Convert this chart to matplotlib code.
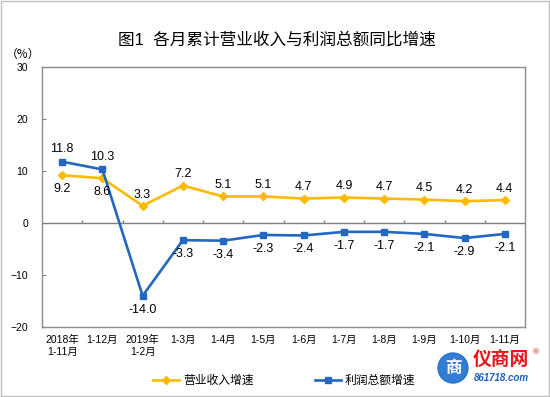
import numpy as np
import matplotlib
matplotlib.use('Agg')
import matplotlib.pyplot as plt
from matplotlib.patches import Rectangle, Ellipse

plt.rcParams['font.family'] = ['Liberation Sans', 'Noto Sans CJK SC', 'DejaVu Sans']

categories = ['2018年\n1-11月', '1-12月', '2019年\n1-2月', '1-3月', '1-4月', '1-5月',
              '1-6月', '1-7月', '1-8月', '1-9月', '1-10月', '1-11月']
revenue = [9.2, 8.6, 3.3, 7.2, 5.1, 5.1, 4.7, 4.9, 4.7, 4.5, 4.2, 4.4]
profit = [11.8, 10.3, -14.0, -3.3, -3.4, -2.3, -2.4, -1.7, -1.7, -2.1, -2.9, -2.1]
# label above (True) or below (False) the point
rev_above = [False, False, True, True, True, True, True, True, True, True, True, True]
prof_above = [True, True] + [False] * 10

orange = '#FFBA00'
blue = '#2467C0'

fig = plt.figure(figsize=(5.5, 3.97), dpi=100)
ax = fig.add_axes([42 / 550, 1 - 327 / 397, 483 / 550, 260 / 397])

x = np.arange(len(categories))
ax.plot(x, revenue, color=orange, lw=1.9, marker='D', ms=4.5, label='营业收入增速', zorder=3)
ax.plot(x, profit, color=blue, lw=1.9, marker='s', ms=4, label='利润总额增速', zorder=3)

for xi, v, up in zip(x, revenue, rev_above):
    ax.annotate(f'{v:.1f}', (xi, v), xytext=(0, 8 if up else -10), textcoords='offset points',
                ha='center', va='center', fontsize=9)
for xi, v, up in zip(x, profit, prof_above):
    ax.annotate(f'{v:.1f}', (xi, v), xytext=(0, 9 if up else -10), textcoords='offset points',
                ha='center', va='center', fontsize=9)

ax.set_xlim(-0.5, len(categories) - 0.5)
ax.set_ylim(-20, 30)
ax.set_yticks([-20, -10, 0, 10, 20, 30])
ax.set_xticks(x)
ax.set_xticklabels(categories, fontsize=7.5, linespacing=1.15)
ax.tick_params(axis='x', length=0, pad=6)
ax.tick_params(axis='y', direction='in', length=3, labelsize=7.5, pad=10, color='#808080')

# zero line with small category separators
ax.axhline(0, color='#7F7F7F', lw=1, zorder=2)
ax.vlines(np.arange(0.5, len(categories) - 1), 0, 0.6, color='#7F7F7F', lw=1, zorder=2)

for s in ax.spines.values():
    s.set_color('#8C8C8C')
    s.set_linewidth(1)

fig.text(0.503, 1 - 40 / 397, '图1  各月累计营业收入与利润总额同比增速', ha='center', va='center', fontsize=12)
fig.text(23 / 550, 1 - 54 / 397, '（%）', ha='center', va='center', fontsize=8.5,
         family=['Noto Sans CJK SC'])

fig.legend(loc='center', bbox_to_anchor=(284 / 550, 1 - 381 / 397), ncol=2, frameon=False,
           fontsize=8.5, handlelength=2.2, handletextpad=0.35, columnspacing=5.2)

# watermark
fig.patches.append(Ellipse((453 / 550, 1 - 368 / 397), 30 / 550, 30 / 397, transform=fig.transFigure,
                           color='#1E6FD0', alpha=0.9, zorder=5))
fig.text(453 / 550, 1 - 368 / 397, '商', ha='center', va='center', fontsize=12, color='white',
         fontweight='bold', zorder=6)
fig.text(501 / 550, 1 - 360 / 397, '仪商网', ha='center', va='center', fontsize=13.5, color='#E8161B',
         fontweight='bold', zorder=6)
fig.text(501 / 550, 1 - 378 / 397, '861718.com', ha='center', va='center', fontsize=7, color='#1E5FB8',
         fontweight='bold', style='italic', zorder=6)
fig.text(536 / 550, 1 - 353 / 397, '®', ha='center', va='center', fontsize=6, color='#E8161B', zorder=6)

fig.patches.append(Rectangle((0.001, 0.002), 0.997, 0.996, transform=fig.transFigure, fill=False,
                             edgecolor='#BFBFBF', lw=1))

fig.savefig('out.png', dpi=100)
